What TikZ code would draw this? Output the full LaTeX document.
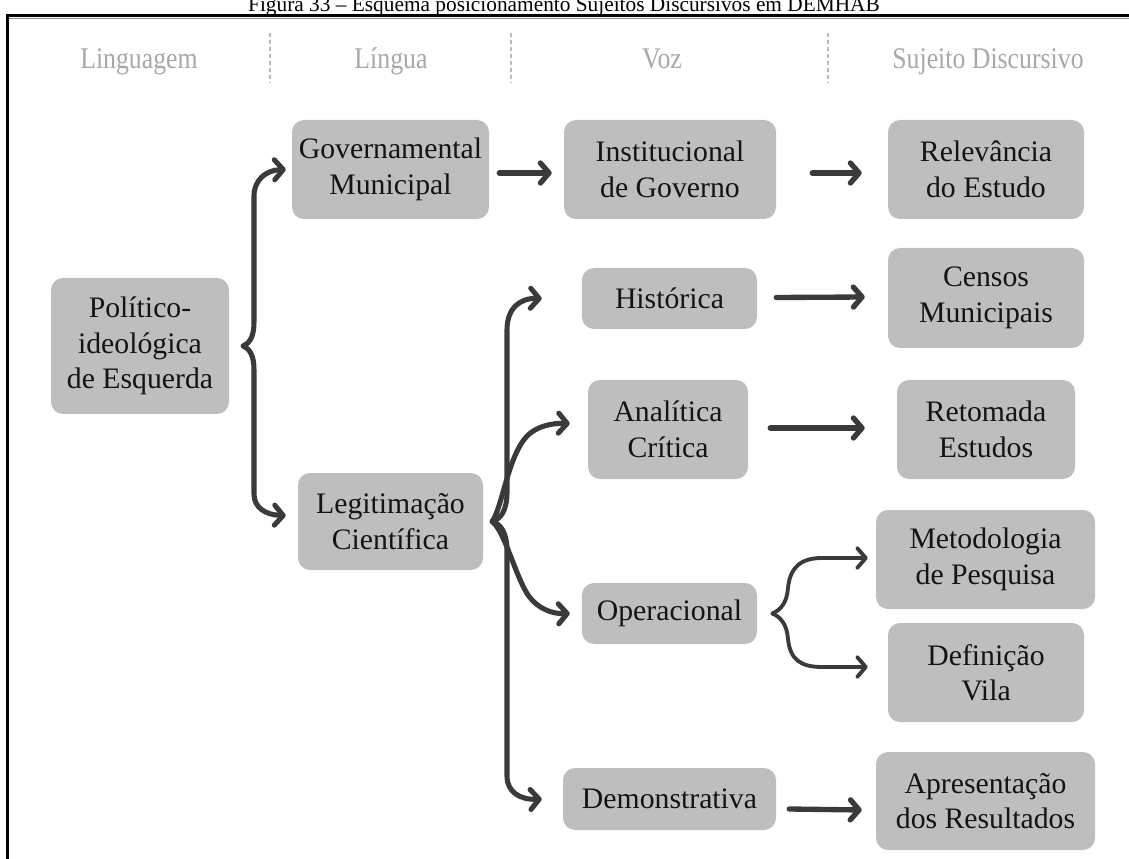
\documentclass[tikz,border=0pt]{standalone}
\usepackage{fontspec}
\setmainfont{Liberation Serif}
\newfontfamily\headfont[FakeStretch=0.86]{Liberation Serif}
\usetikzlibrary{arrows.meta,calc}

\definecolor{boxgray}{HTML}{BEBEBE}
\definecolor{inkgray}{HTML}{3A3A3A}
\definecolor{headgray}{HTML}{A8A8A8}

\begin{document}
\begin{tikzpicture}[x=0.75pt,y=-0.75pt,
  box/.style={draw=none, fill=boxgray, rounded corners=9pt, inner sep=0pt,
    align=center, font=\fontsize{22.3pt}{26.6pt}\selectfont, text=black!92},
  size/.style 2 args={minimum width=#1*0.75pt, minimum height=#2*0.75pt},
  head/.style={text=headgray, font=\headfont\fontsize{22.5pt}{26pt}\selectfont, anchor=base},
  sepline/.style={draw=headgray!80, line width=0.9pt, dash pattern=on 3pt off 2.2pt},
  link/.style={draw=inkgray, line width=4pt, line cap=round, line join=round,
    -{Straight Barb[length=6.5pt,width=15pt,round]}},
  brace/.style={link, line width=3.8pt},
  thinbrace/.style={link, line width=2.9pt},
]
\useasboundingbox (0,0) rectangle (1129,859);
\clip (0,0) rectangle (1129,859);

% caption and frame
\node[anchor=base, font=\fontsize{16pt}{18pt}\selectfont] (cap) at (564,12)
  {Figura 33 -- Esquema posicionamento Sujeitos Discursivos em DEMHAB};
\draw[line width=1.9pt] (7.5,870) -- (7.5,15.5) -- (1140,15.5);
\draw[black!45, line width=0.5pt] (9,18) -- (1140,18);

% column headers
\node[head] (h1) at (139,69) {Linguagem};
\node[head] (h2) at (391,69) {Língua};
\node[head] (h3) at (662,69) {Voz};
\node[head] (h4) at (988,69) {Sujeito Discursivo};
\draw[sepline] (270,33) -- (270,82);
\draw[sepline] (511,33) -- (511,82);
\draw[sepline] (828,33) -- (828,82);

% boxes
\node[box, size={178}{136}] (pol) at (140,346) {Político-\\ideológica\\de Esquerda};
\node[box, size={197}{99}] (gov) at (390.5,169.5) {Governamental\\Municipal};
\node[box, size={185}{97}] (leg) at (390.5,521.5) {Legitimação\\Científica};
\node[box, size={212}{99}] (inst) at (670,169.5) {Institucional\\de Governo};
\node[box, size={175}{61}] (hist) at (669.5,298.5) {Histórica};
\node[box, size={160}{99}] (anal) at (668,429.5) {Analítica\\Crítica};
\node[box, size={175}{61}] (oper) at (669.5,613.5) {Operacional};
\node[box, size={213}{62}] (demo) at (669.5,799) {Demonstrativa};
\node[box, size={196}{99}] (rel) at (986,169.5) {Relevância\\do Estudo};
\node[box, size={196}{100}] (censos) at (986,298) {Censos\\Municipais};
\node[box, size={178}{99}] (ret) at (986,429.5) {Retomada\\Estudos};
\node[box, size={219}{99}] (metod) at (985.5,559.5) {Metodologia\\de Pesquisa};
\node[box, size={196}{99}] (defin) at (986,672.5) {Definição\\Vila};
\node[box, size={219}{98}] (apres) at (985.5,801) {Apresentação\\dos Resultados};

% brace tips
\coordinate (ptip) at ($(pol.east)+(14,0)$);
\coordinate (ltip) at ($(leg.east)+(9,0)$);
\coordinate (otip) at ($(oper.east)+(15,0)$);

% Político-ideológica brace
\draw[brace] (ptip) .. controls (250,343) and (254,336) .. (254,322) -- (254,196)
  .. controls (254,180) and (266,170) .. ($(gov.west)+(-6,0)$);
\draw[brace] (ptip) .. controls (250,349) and (254,356) .. (254,370) -- (254,494)
  .. controls (254,508) and (266,515) .. ($(leg.west)+(-12,-6)$);

% Legitimação brace
\draw[brace] (ltip) .. controls (501,519) and (507,510) .. (507,492) -- (507,330)
  .. controls (507,308) and (520,298) .. ($(hist.west)+(-40,0)$);
\draw[brace] (ltip) .. controls (503,505) and (508,455) .. (528,435)
  .. controls (538,426) and (552,423) .. ($(anal.west)+(-18,-6)$);
\draw[brace] (ltip) .. controls (505,532) and (515,575) .. (528,595)
  .. controls (538,609) and (552,614) .. ($(oper.west)+(-12,0)$);
\draw[brace] (ltip) .. controls (501,524) and (507,533) .. (507,551) -- (507,776)
  .. controls (507,792) and (520,800) .. ($(demo.west)+(-21,0)$);

% Operacional brace
\draw[thinbrace] (otip) .. controls (781,610) and (787,602) .. (788,588)
  .. controls (790,568) and (800,558) .. (822,558) -- ($(metod.west)+(-8,-1.5)$);
\draw[thinbrace] (otip) .. controls (781,617) and (787,625) .. (788,639)
  .. controls (790,659) and (800,667) .. (822,667) -- ($(defin.west)+(-20,-5.5)$);

% straight links
\draw[link] ($(gov.east)+(10,3.5)$) -- ($(inst.west)+(-12,3.5)$);
\draw[link] ($(inst.east)+(36,3.5)$) -- ($(rel.west)+(-26,3.5)$);
\draw[link] ($(hist.east)+(19,-1)$) -- ($(censos.west)+(-23,-1)$);
\draw[link] ($(anal.east)+(22,-1.5)$) -- ($(ret.west)+(-32,-1.5)$);
\draw[link] ($(demo.east)+(13,10)$) -- ($(apres.west)+(-14,9)$);
\end{tikzpicture}
\end{document}
